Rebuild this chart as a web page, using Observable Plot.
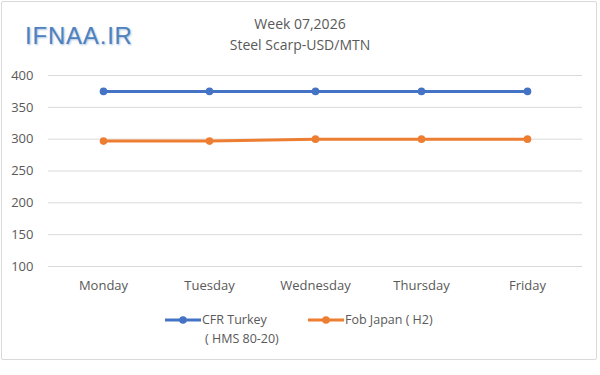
<!DOCTYPE html>
<html>
<head>
<meta charset="utf-8">
<script src="https://cdn.jsdelivr.net/npm/d3@7"></script>
<script src="https://cdn.jsdelivr.net/npm/@observablehq/plot@0.6"></script>
<style>
  html, body { margin: 0; padding: 0; background: #fff; }
  #wrap { position: relative; width: 600px; height: 375px; font-family: "Open Sans", "Noto Sans", sans-serif; }
  #frame { position: absolute; left: 1px; top: 1px; width: 596px; height: 359px; border: 1px solid #d9d9d9; box-sizing: border-box; border-radius: 2px; }
  #chart { position: absolute; left: 0; top: 0; }
  .t { position: absolute; color: #595959; white-space: nowrap; }
  #logo { left: 25px; top: 22px; font-size: 24px; line-height: 28px; color: #4f81bd; font-family: "Liberation Sans", "Open Sans", sans-serif; text-shadow: 1px 1px 2px rgba(79,129,189,0.5); letter-spacing: 0.8px; }
  #title { left: 0; width: 600px; text-align: center; top: 15px; font-size: 14px; line-height: 18px; }
  #subtitle { left: 0; width: 600px; text-align: center; top: 36px; font-size: 14px; line-height: 18px; }
  .leg { position: absolute; font-size: 12.5px; color: #595959; line-height: 16px; }
  .leg svg { position: absolute; }
</style>
</head>
<body>
<div id="wrap">
  <div id="frame"></div>
  <div id="chart"></div>
  <div class="t" id="logo"></div>
  <div class="t" id="title"></div>
  <div class="t" id="subtitle"></div>
  <div id="legend"></div>
</div>
<script>
const titleText = "Week 07,2026";
const subtitleText = "Steel Scarp-USD/MTN";
const logoText = "IFNAA.IR";
const days = ["Monday", "Tuesday", "Wednesday", "Thursday", "Friday"];
const seriesNames = ["CFR Turkey\n( HMS 80-20)", "Fob Japan ( H2)"];
const cfrTurkey = [375, 375, 375, 375, 375];
const fobJapan = [297, 297, 300, 300, 300];
const yTicks = [100, 150, 200, 250, 300, 350, 400];
const colors = ["#4472c4", "#ed7d31"];

document.getElementById("logo").textContent = logoText;
document.getElementById("title").textContent = titleText;
document.getElementById("subtitle").textContent = subtitleText;

const rows = [];
days.forEach((d, i) => {
  rows.push({day: d, value: cfrTurkey[i], series: seriesNames[0]});
  rows.push({day: d, value: fobJapan[i], series: seriesNames[1]});
});

const plot = Plot.plot({
  width: 600,
  height: 375,
  marginLeft: 48,
  marginRight: 18,
  marginTop: 75,
  marginBottom: 109,
  style: {fontFamily: "'Open Sans', 'Noto Sans', sans-serif", fontSize: "13px", color: "#595959", background: "transparent"},
  x: {type: "point", domain: days, padding: 0.5, label: null},
  y: {domain: [100, 400], label: null},
  color: {domain: seriesNames, range: colors},
  marks: [
    Plot.gridY(yTicks, {stroke: "#d9d9d9", strokeOpacity: 1, strokeWidth: 1}),
    Plot.axisY(yTicks, {tickSize: 0, tickPadding: 15, fontSize: 13, fill: "#595959", label: null}),
    Plot.axisX({tickSize: 0, tickPadding: 14, fontSize: 13, fill: "#595959", label: null}),
    Plot.line(rows, {x: "day", y: "value", z: "series", stroke: "series", strokeWidth: 3}),
    Plot.dot(rows, {x: "day", y: "value", fill: "series", r: 3.8, stroke: null})
  ]
});
document.getElementById("chart").appendChild(plot);

// legend
const legend = document.getElementById("legend");
const legPos = [{x: 165, y: 312}, {x: 308, y: 312}];
seriesNames.forEach((name, i) => {
  const item = document.createElement("div");
  item.className = "leg";
  item.style.left = legPos[i].x + "px";
  item.style.top = legPos[i].y + "px";
  const sw = 36;
  item.innerHTML = `<svg width="${sw}" height="16" style="left:0;top:0"><line x1="0" x2="${sw}" y1="8" y2="8" stroke="${colors[i]}" stroke-width="3"/><circle cx="${sw/2}" cy="8" r="3.8" fill="${colors[i]}"/></svg>`;
  const lines = name.split("\n");
  lines.forEach((ln, j) => {
    const s = document.createElement("div");
    s.style.position = "absolute";
    s.style.whiteSpace = "nowrap";
    s.style.left = (sw + 1 + (j > 0 ? 3 : 0)) + "px";
    s.style.top = (j * 19) + "px";
    s.textContent = ln;
    item.appendChild(s);
  });
  legend.appendChild(item);
});
</script>
</body>
</html>
